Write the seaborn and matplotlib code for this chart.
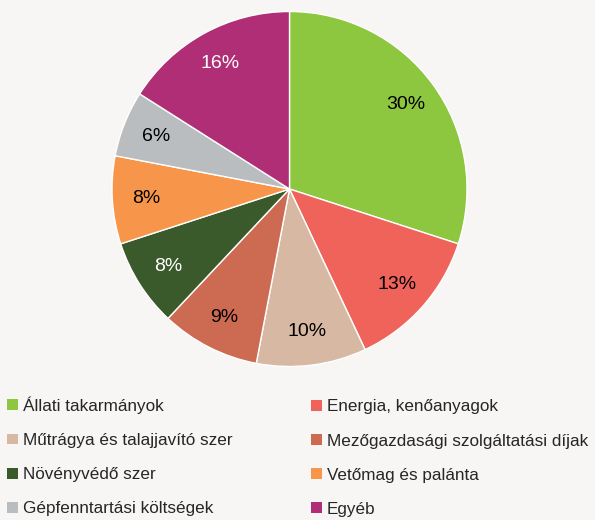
import matplotlib
matplotlib.use("Agg")
import matplotlib.pyplot as plt
import seaborn as sns
from matplotlib.patches import Patch

categories = ["Állati takarmányok", "Energia, kenőanyagok", "Műtrágya és talajjavító szer",
              "Mezőgazdasági szolgáltatási díjak", "Növényvédő szer", "Vetőmag és palánta",
              "Gépfenntartási költségek", "Egyéb"]
values = [30, 13, 10, 9, 8, 8, 6, 16]
colors = ["#8dc63f", "#f0635a", "#d7b8a2", "#cc6a52", "#3a5a2c", "#f7964a", "#babdc0", "#b02e76"]
label_colors = ["black", "black", "black", "black", "white", "black", "black", "white"]

bg = "#f7f6f4"
sns.set_theme(style="white")
plt.rcParams["font.family"] = ["Liberation Sans", "DejaVu Sans"]

W, H = 595, 520
fig = plt.figure(figsize=(W / 100, H / 100), dpi=100, facecolor=bg)
cx, cy, r = 289.5, 189.0, 177.5
ax = fig.add_axes([(cx - r) / W, 1 - (cy + r) / H, 2 * r / W, 2 * r / H])
ax.set_facecolor(bg)

wedges, texts, autotexts = ax.pie(values, colors=colors, startangle=90, counterclock=False,
                                  autopct=lambda p: f"{p:.0f}%", pctdistance=0.81, radius=1,
                                  wedgeprops=dict(edgecolor="white", linewidth=1),
                                  textprops=dict(fontsize=14))
for t, c in zip(autotexts, label_colors):
    t.set_color(c)
ax.set_xlim(-1, 1)
ax.set_ylim(-1, 1)
ax.set_aspect("equal")
ax.axis("off")

handles = [Patch(facecolor=c, edgecolor="none") for c in colors]
col1 = [0, 2, 4, 6]
col2 = [1, 3, 5, 7]
for idx, x0, y0 in ((col1, 4 / W, 393), (col2, 308 / W, 396)):
    fig.legend([handles[i] for i in idx], [categories[i] for i in idx],
               loc="upper left", bbox_to_anchor=(x0, 1 - y0 / H), frameon=False,
               fontsize=12.3, handlelength=0.6, handleheight=0.6, handletextpad=0.3,
               labelspacing=1.12, borderaxespad=0, borderpad=0.2)

fig.savefig("out.png", dpi=100, facecolor=bg)
